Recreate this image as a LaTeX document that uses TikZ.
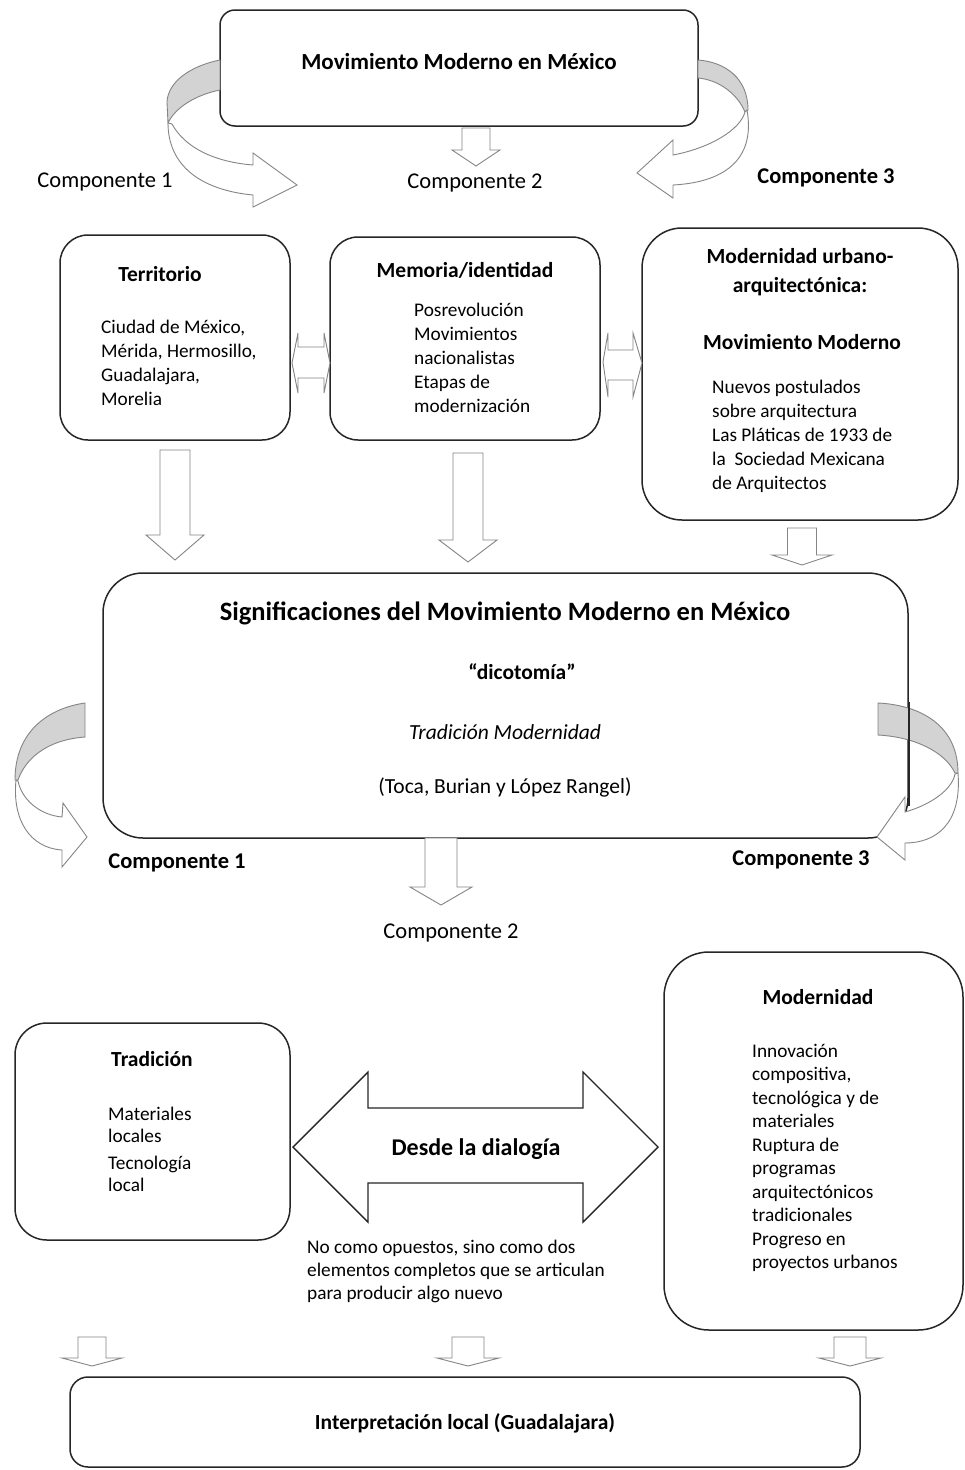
\documentclass[tikz,border=0pt]{standalone}
\usepackage{fontspec}
\setmainfont{Carlito}
\definecolor{boxc}{HTML}{262626}
\definecolor{arrc}{HTML}{858585}
\definecolor{bandc}{HTML}{D3D3D3}
\newcommand\dnarrow[6]{% cx, top, shaft half, head half, head y, tip y
  \draw[barrow] (#1-#3,#2) -- (#1+#3,#2) -- (#1+#3,#5) -- (#1+#4,#5) -- (#1,#6) -- (#1-#4,#5) -- (#1-#3,#5) -- cycle;}
\begin{document}
\begin{tikzpicture}[x=1pt,y=-1pt,
 box/.style={draw=boxc,line width=1.5pt,rounded corners=#1,inner sep=0pt,fill=white},
 box/.default=20pt,
 barrow/.style={draw=arrc,line width=0.9pt,fill=white,line join=miter},
 darrow/.style={draw=boxc,line width=1.4pt,fill=white,line join=miter},
 band/.style={draw=arrc,line width=0.9pt,fill=bandc},
 lbl/.style={inner sep=0pt,text height=16pt,text depth=2pt},
 ttl/.style={lbl,font=\fontsize{21.5}{26}\selectfont\bfseries},
 comp/.style={lbl,font=\fontsize{22.5}{26}\selectfont},
 compb/.style={lbl,font=\fontsize{22.5}{26}\selectfont\bfseries},
 body/.style={anchor=north west,inner sep=0pt,align=left,font=\fontsize{19.3}{24}\selectfont,execute at begin node=\strut},
]
\useasboundingbox (0,0) rectangle (965,1470);
\fill[white] (0,0) rectangle (965,1470);

% ---------- boxes ----------
\node[box=15pt,minimum width=478pt,minimum height=116pt] (top) at (459,68) {};
\node[box=28pt,minimum width=230pt,minimum height=205pt] (terr) at (175,337.5) {};
\node[box=28pt,minimum width=270pt,minimum height=203pt] (mem) at (465,338.5) {};
\node[box=40pt,minimum width=316pt,minimum height=292pt] (modu) at (800,374) {};
\node[box=40pt,minimum width=805pt,minimum height=265pt] (big) at (505.5,705.5) {};
\node[box=32pt,minimum width=275pt,minimum height=217pt] (trad) at (152.5,1131.5) {};
\node[box=45pt,minimum width=299pt,minimum height=378pt] (mod) at (813.5,1141) {};
\node[box=18pt,minimum width=790pt,minimum height=90pt] (interp) at (465,1422) {};

% ---------- curved arrows, top ----------
\draw[band] (220,60) .. controls (190,66) and (168,82) .. (167,102) -- (168,123) .. controls (175,108) and (195,95) .. (220,90) -- cycle;
\draw[barrow] (168,123) .. controls (168,165) and (200,190) .. (253,195) -- (253,207) -- (297,185) -- (253,153) -- (253,165) .. controls (215,162) and (185,148) .. (172,124) -- cycle;

\draw[band] (698,60) .. controls (725,62) and (748,78) .. (748,110) -- (745,112) .. controls (738,95) and (720,80) .. (698,78) -- cycle;
\draw[barrow] (747,110) .. controls (755,155) and (730,182) .. (673,185) -- (673,198) -- (637,173) -- (673,140) -- (673,155) .. controls (710,148) and (740,130) .. (745,112) -- cycle;

% ---------- curved arrows, middle ----------
\draw[band] (85,703) .. controls (50,708) and (15,730) .. (15,780) -- (18,780) .. controls (25,760) and (45,740) .. (85,737) -- cycle;
\draw[barrow] (16,780) .. controls (12,820) and (30,848) .. (62,850) -- (62,867) -- (87,837) -- (63,803) -- (62,817) .. controls (40,815) and (22,800) .. (18,781) -- cycle;

\draw[band] (878,703) .. controls (920,705) and (958,725) .. (958,773) -- (955,773) .. controls (945,752) and (915,737) .. (878,735) -- cycle;
\draw[barrow] (958,773) .. controls (962,825) and (935,843) .. (905,843) -- (905,860) -- (877,837) -- (905,797) -- (905,812) .. controls (930,805) and (952,790) .. (955,774) -- cycle;
\draw[boxc,line width=1.5pt] (big.east) ++(0,-4) -- ++(0,104);

% ---------- straight block arrows ----------
\dnarrow{476}{128}{14}{24}{150}{166}
\dnarrow{175}{450}{15}{29}{535}{560}
\dnarrow{468}{453}{15}{29}{540}{562}
\dnarrow{802}{528}{14.5}{30}{555}{565}
\dnarrow{441}{838}{16}{31}{887}{905}
\dnarrow{92}{1337}{14}{30}{1358}{1366}
\dnarrow{468}{1337}{16}{31}{1358}{1366}
\dnarrow{850}{1337}{16}{31}{1358}{1366}

% small double arrows between boxes
\draw[barrow] (292,363) -- (298,333) -- (298,347) -- (324,347) -- (324,333) -- (330,363) -- (324,393) -- (324,378) -- (298,378) -- (298,393) -- cycle;
\draw[barrow] (603,362) -- (608,333) -- (608,350) -- (633,350) -- (633,333) -- (642,363) -- (633,397) -- (633,380) -- (608,380) -- (608,397) -- cycle;

% big double arrow
\draw[darrow] (293,1147) -- (368,1072) -- (368,1108) -- (583,1108) -- (583,1072) -- (658,1147) -- (583,1222) -- (583,1183) -- (368,1183) -- (368,1222) -- cycle;

% ---------- texts ----------
\node[lbl,font=\fontsize{23}{27}\selectfont\bfseries] (ttop) at (459,62) {Movimiento Moderno en México};
\node[comp] (c1a) at (105,180) {Componente 1};
\node[comp] (c2a) at (475,181) {Componente 2};
\node[compb] (c3a) at (826,176) {Componente 3};

\node[ttl] (tterr) at (160,274) {Territorio};
\node[body] (bterr) at (101,319.4) {Ciudad de México,\\Mérida, Hermosillo,\\Guadalajara,\\Morelia};
\node[ttl] (tmem) at (465,270) {Memoria/identidad};
\node[body] (bmem) at (414,302.4) {Posrevolución\\Movimientos\\nacionalistas\\Etapas de\\modernización};
\node[ttl,align=center,text height=,text depth=,font=\fontsize{21.5}{29}\selectfont\bfseries] (tmodu) at (800,272.5) {Modernidad urbano-\\arquitectónica:};
\node[ttl] (tmodu2) at (802,342) {Movimiento Moderno};
\node[body] (bmodu) at (712,379.4) {Nuevos postulados\\sobre arquitectura\\Las Pláticas de 1933 de\\la~ Sociedad Mexicana\\de Arquitectos};

\node[lbl,text height=19pt,font=\fontsize{26.5}{30}\selectfont\bfseries] (tbig) at (505,612) {Significaciones del Movimiento Moderno en México};
\node[ttl] (tdic) at (522,672) {“dicotomía”};
\node[lbl,font=\fontsize{21.5}{26}\selectfont\itshape] (ttm) at (505,732) {Tradición Modernidad};
\node[lbl,font=\fontsize{21.5}{26}\selectfont] (ttoca) at (505,786) {(Toca, Burian y López Rangel)};

\node[compb] (c1b) at (177,861) {Componente 1};
\node[compb] (c3b) at (801,858) {Componente 3};
\node[comp] (c2b) at (451,931) {Componente 2};

\node[ttl] (ttrad) at (152,1059) {Tradición};
\node[body,font=\fontsize{19.3}{22}\selectfont] (btrad) at (108,1107.3) {Materiales\\locales\\[5pt]Tecnología\\local};
\node[ttl] (tmod) at (818,997) {Modernidad};
\node[body,font=\fontsize{19.3}{23.5}\selectfont] (bmod) at (752,1043.8) {Innovación\\compositiva,\\tecnológica y de\\materiales\\Ruptura de\\programas\\arquitectónicos\\tradicionales\\Progreso en\\proyectos urbanos};

\node[lbl,font=\fontsize{24}{28}\selectfont\bfseries] (tdes) at (476,1148) {Desde la dialogía};
\node[body,font=\fontsize{19.3}{23}\selectfont] (bnote) at (307,1240.1) {No como opuestos, sino como dos\\elementos completos que se articulan\\para producir algo nuevo};

\node[ttl] (tinterp) at (465,1422) {Interpretación local (Guadalajara)};
\end{tikzpicture}
\end{document}
